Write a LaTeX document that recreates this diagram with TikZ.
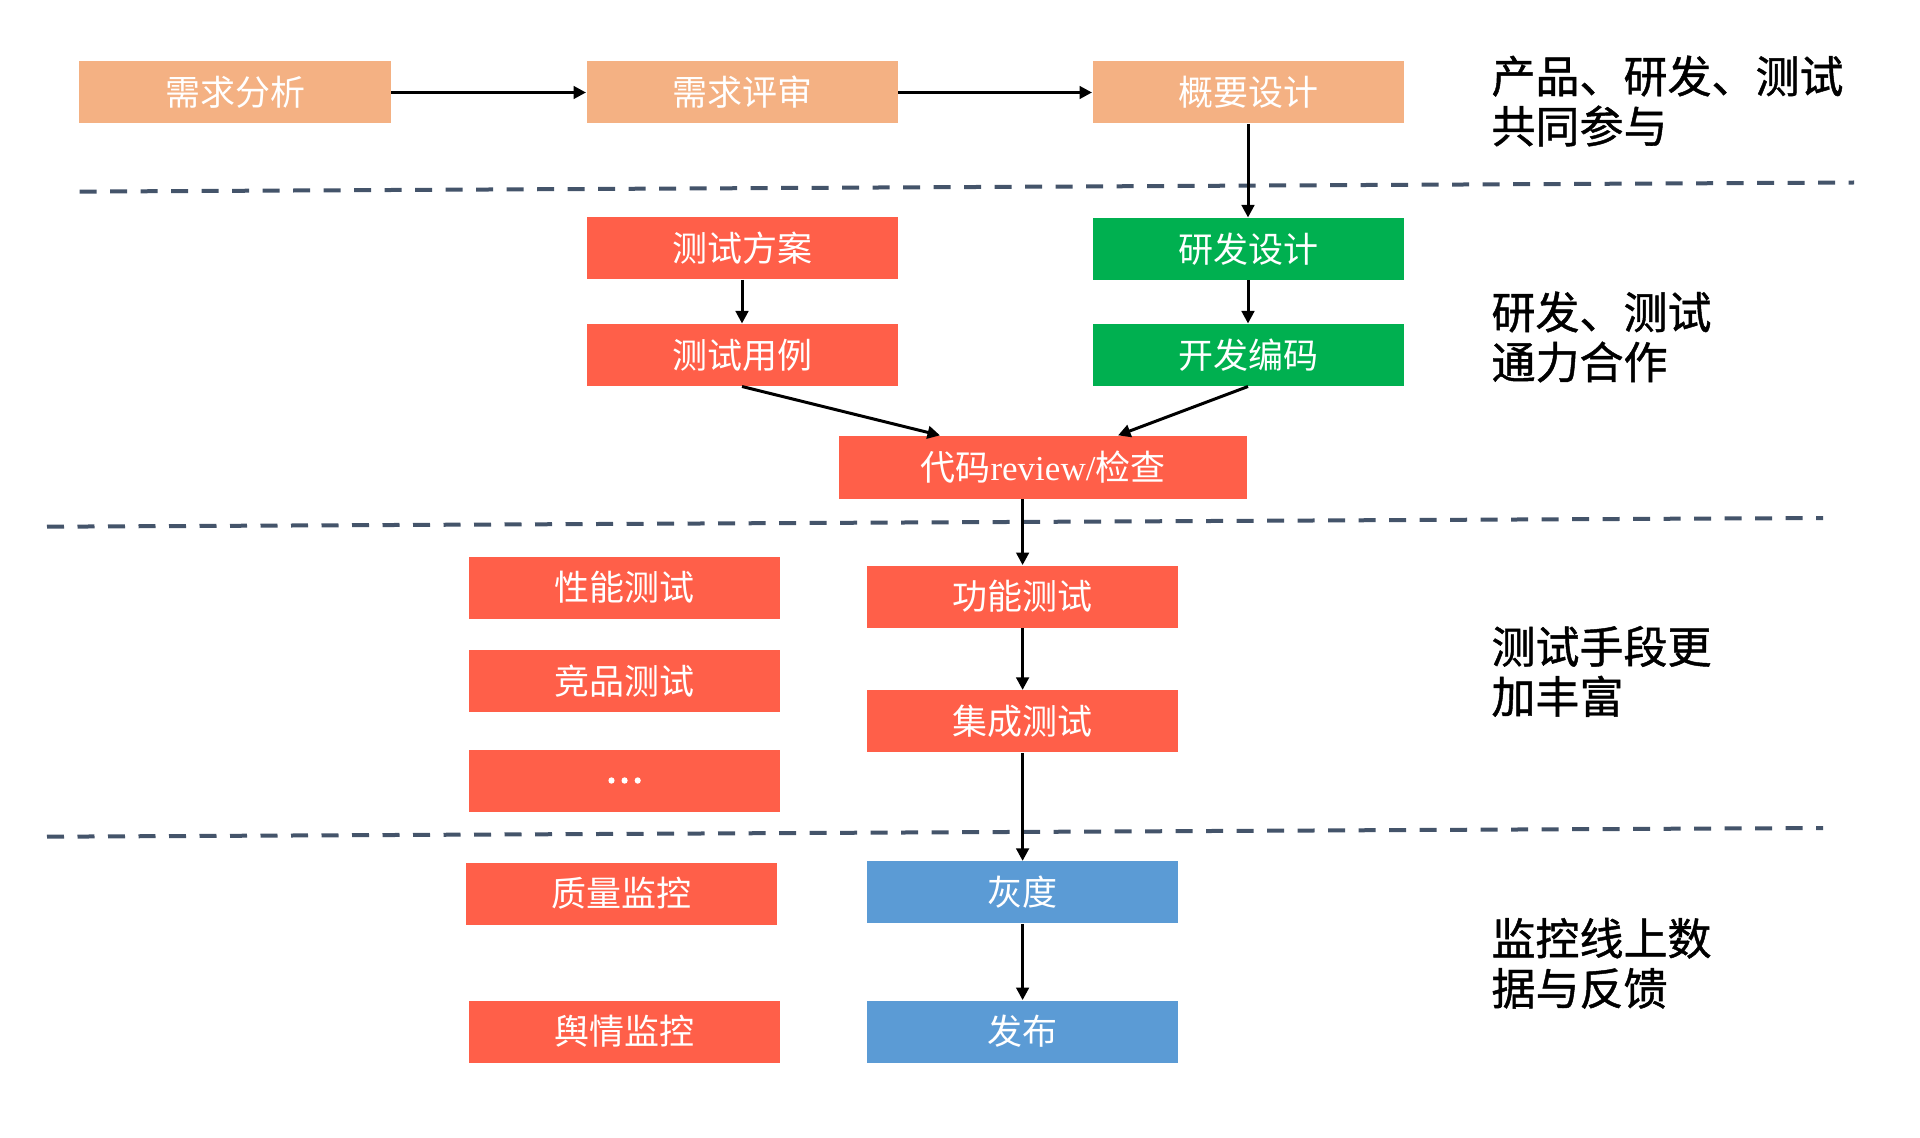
\documentclass[tikz,border=0pt]{standalone}
\usepackage{fontspec}
\setmainfont{Noto Sans CJK SC}
\newfontfamily\latinserif{Liberation Serif}
\newfontfamily\labelfont[FakeBold=1]{Noto Sans CJK SC}
\newfontfamily\dotsfont[FakeBold=4]{Noto Sans CJK SC}
\usetikzlibrary{arrows.meta}
\definecolor{cpeach}{HTML}{F4B183}
\definecolor{cred}{HTML}{FF5F49}
\definecolor{cgreen}{HTML}{00B050}
\definecolor{cblue}{HTML}{5B9BD5}
\definecolor{dashc}{HTML}{44546A}
\begin{document}
\begin{tikzpicture}[x=0.4pt,y=-0.4pt,
  box/.style={rectangle, inner sep=0pt, minimum width=124.4pt, minimum height=24.8pt, text=white, font=\fontsize{14pt}{16pt}\selectfont},
  pbox/.style={box, fill=cpeach},
  rbox/.style={box, fill=cred},
  gbox/.style={box, fill=cgreen},
  bbox/.style={box, fill=cblue},
  arr/.style={line width=1.2pt, -{Triangle[length=5pt,width=5pt]}},
  sepline/.style={dashc, line width=1.6pt, dash pattern=on 6.8pt off 5.4pt},
  lab/.style={anchor=west, align=left, inner sep=0pt, text=black, font=\labelfont\fontsize{17.6pt}{20pt}\selectfont}]
\useasboundingbox[fill=white] (0,0) rectangle (1920,1138);

% separators
\draw[sepline] (79.6,191.6) -- (1854,182.5);
\draw[sepline] (47,526.7) -- (1823,518);
\draw[sepline] (47,836.7) -- (1823,828);

% boxes
\node[pbox] (a1) at (235,92.5) {需求分析};
\node[pbox] (a2) at (742,92.5) {需求评审};
\node[pbox] (a3) at (1248,92.5) {概要设计};
\node[rbox] (b1) at (742,248.5) {测试方案};
\node[gbox] (b2) at (1248,249) {研发设计};
\node[rbox] (c1) at (742,355) {测试用例};
\node[gbox] (c2) at (1248,355) {开发编码};
\node[rbox, minimum width=163.2pt, minimum height=25.2pt] (cr) at (1043,467.4) {代码{\latinserif review/}检查};
\node[rbox] (p1) at (624,587.5) {性能测试};
\node[rbox] (p2) at (624,681) {竞品测试};
\node[rbox] (p3) at (624,780.5) {\raisebox{-1pt}{\dotsfont …}};
\node[rbox] (f1) at (1022.6,596.6) {功能测试};
\node[rbox] (f2) at (1022.6,721.4) {集成测试};
\node[rbox] (q1) at (621,893.5) {质量监控};
\node[bbox] (g1) at (1022.6,892.4) {灰度};
\node[rbox] (q2) at (624,1031.6) {舆情监控};
\node[bbox] (g2) at (1022.6,1031.6) {发布};

% labels
\node[lab] (l1) at (1491,101) {产品、研发、测试\\共同参与};
\node[lab] (l2) at (1491,337) {研发、测试\\通力合作};
\node[lab] (l3) at (1491,671.4) {测试手段更\\加丰富};
\node[lab] (l4) at (1491,963.3) {监控线上数\\据与反馈};

% arrows
\draw[arr] (a1) -- (a2);
\draw[arr] (a2) -- (a3);
\draw[arr] (a3) -- (b2);
\draw[arr] (b1) -- (c1);
\draw[arr] (b2) -- (c2);
\draw[arr] (c1.south) -- ([xshift=-41.2pt]cr.north);
\draw[arr] (c2.south) -- ([xshift=30pt]cr.north);
\draw[arr] (cr.south -| f1.north) -- (f1.north);
\draw[arr] (f1) -- (f2);
\draw[arr] (f2) -- (g1);
\draw[arr] (g1) -- (g2);
\end{tikzpicture}
\end{document}
